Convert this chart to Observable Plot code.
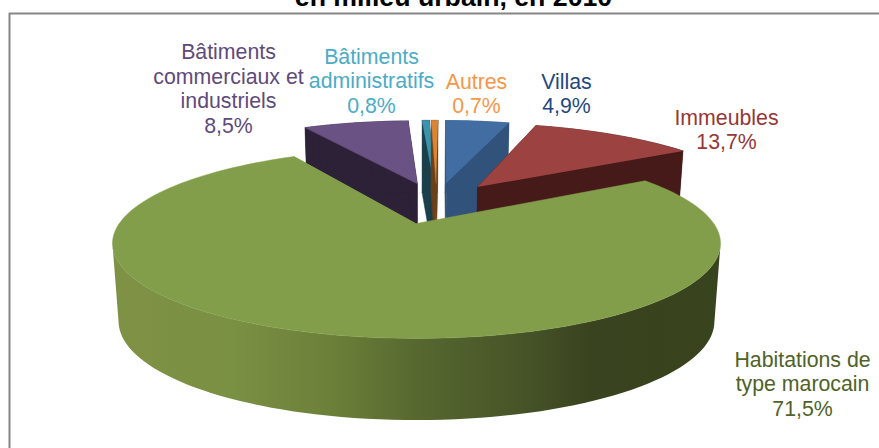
<!DOCTYPE html>
<html><head><meta charset="utf-8">
<script src="https://cdn.jsdelivr.net/npm/d3@7"></script>
<script src="https://cdn.jsdelivr.net/npm/@observablehq/plot@0.6"></script>
<style>html,body{margin:0;padding:0;background:#fff}svg{display:block}</style>
</head><body><div id="chart"></div>
<script>
const titleText = "en milieu urbain, en 2010";
const names = ["Villas","Immeubles","Habitations de\ntype marocain","Bâtiments\ncommerciaux et\nindustriels","Bâtiments\nadministratifs","Autres"];
const shares = [4.9,13.7,71.5,8.5,0.8,0.7];
const topColors = ["#426da2","#9c4240","#839e4a","#6b5285","#3a94ae","#da8435"];
const sideColors = ["#31527b","#451a18","#56672f","#2d2137","#1b3f4b","#6a4019"];
const labelColors = ["#1f497d","#953735","#4f6228","#604a7b","#4bacc6","#f79646"];
const labelCenters = [[566,92.5],[726,128.5],[802,383],[228,87.5],[371,80],[476,92.5]];
const drawOrder = [3,4,5,0,1,2];

// view of the 3D pie
const cx=416, cy=243, ry=95, rx=304, k=-0.21, lift=-20, depth=77, explode=0.25, taper=0.98;
const A = rx*Math.sqrt(1-k*k);
const project = (u,v)=>{const w=1+k*v; return [cx+A*u/w, cy+(ry*v+lift)/w, w];};
const rad = d=>d*Math.PI/180;
// foreshortening of angles seen on the tilted pie
const warp = t=>{
  const s=Math.sin(rad(t));
  const signed=((t+180)%360)-180;
  return t+0.5-(t<180?10.5:18)*s*Math.abs(s)+2.2*Math.exp(-(((signed+6)/5)**2));
};
const dir = t=>[Math.sin(rad(t)),-Math.cos(rad(t))];
const gradX=[112,230,330,420,520,590,720];
const gradC=["#7f9145","#7a9043","#6c8039","#56672f","#475428","#39431f","#38441e"];

const cum = d3.cumsum(shares);
const arcs = shares.map((s,i)=>{
  const a0=warp((cum[i]-s)*3.6), a1=warp(cum[i]*3.6);
  return {i,a0,a1,mid:(a0+a1)/2};
});
// all slices pull away from the common centre; the largest is the reference disk
const greenDir = dir(arcs[2].mid);
const pivot = [-explode*greenDir[0]+0.007,-explode*greenDir[1]];
const low=a=>[cx+(a[0]-cx)*taper, a[1]+depth*Math.pow(1/a[2],0.25)];

const faces=[], ribbon=[];
for (const i of drawOrder){
  const {a0,a1,mid}=arcs[i], d=dir(mid);
  const c=i===2?[0,0]:[pivot[0]+explode*d[0],pivot[1]+explode*d[1]];
  const n=Math.max(2,Math.ceil((a1-a0)/2));
  const rim=d3.range(n+1).map(j=>{
    const e=dir(a0+(a1-a0)*j/n);
    return project(c[0]+e[0],c[1]+e[1]);
  });
  const apex=project(c[0],c[1]);
  const outline=[apex,...rim];
  if(i===2){
    const front=rim.slice(d3.greatestIndex(rim,p=>p[0]),d3.leastIndex(rim,p=>p[0])+1);
    [...front,...front.slice().reverse().map(low)].forEach(a=>ribbon.push({x:a[0],y:a[1]}));
  } else {
    outline.forEach((p,j)=>{
      const q=outline[(j+1)%outline.length], id=`s${i}-${j}`;
      [p,q,low(q),low(p)].forEach(a=>faces.push({id,x:a[0],y:a[1],fill:sideColors[i],layer:i}));
    });
  }
  outline.forEach(p=>faces.push({id:`t${i}`,x:p[0],y:p[1],fill:topColors[i],layer:i}));
}
const backFaces=faces.filter(p=>p.layer!==2), greenTop=faces.filter(p=>p.layer===2);

const gradientDefs=()=>{
  const defs=d3.create("svg:defs");
  const g=defs.append("linearGradient").attr("id","greenSide").attr("gradientUnits","userSpaceOnUse")
    .attr("x1",gradX[0]).attr("x2",gradX[gradX.length-1]).attr("y1",0).attr("y2",0);
  gradX.forEach((x,i)=>g.append("stop")
    .attr("offset",(x-gradX[0])/(gradX[gradX.length-1]-gradX[0])).attr("stop-color",gradC[i]));
  return defs.node();
};

const fmt=v=>v.toFixed(1).replace(".",",")+"%";
const labels=names.map((n,i)=>Plot.text([n+"\n"+fmt(shares[i])],{
  text:d=>d, frameAnchor:"top-left", dx:labelCenters[i][0], dy:labelCenters[i][1],
  textAnchor:"middle", lineAnchor:"middle", lineHeight:1.155,
  fontFamily:"Liberation Sans", fontSize:21.3, fill:labelColors[i]
}));

const chart=Plot.plot({
  width:879,height:448,margin:0,
  x:{domain:[0,879],range:[0,879],axis:null},
  y:{domain:[0,448],range:[0,448],axis:null},
  color:{type:"identity"},
  marks:[
    gradientDefs,
    Plot.ruleY([13],{x1:9,x2:879,stroke:"#868686",strokeWidth:2}),
    Plot.ruleX([9],{y1:13,y2:448,stroke:"#868686",strokeWidth:2}),
    Plot.line(backFaces,{x:"x",y:"y",z:"id",fill:"fill",stroke:"fill",strokeWidth:0.5}),
    Plot.line(ribbon,{x:"x",y:"y",fill:"url(#greenSide)",stroke:"none"}),
    Plot.line(greenTop,{x:"x",y:"y",z:"id",fill:"fill",stroke:"fill",strokeWidth:0.5}),
    Plot.text([titleText],{text:d=>d,frameAnchor:"top-left",dx:453,dy:5,textAnchor:"middle",lineAnchor:"bottom",
      fontFamily:"Liberation Sans",fontWeight:"bold",fontSize:26.7,fill:"#000"}),
    ...labels
  ]
});
document.getElementById("chart").append(chart);
</script></body></html>
